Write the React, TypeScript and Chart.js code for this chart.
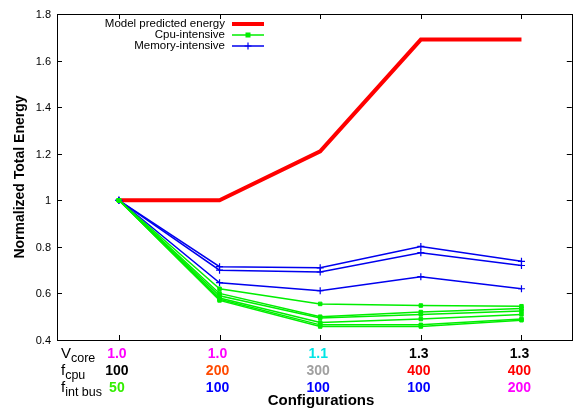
import React, { useEffect, useRef } from "react";
import { Chart, registerables } from "chart.js";

Chart.register(...registerables);

const configX = [1, 2, 3, 4, 5];
const modelEnergy = [1.0, 1.0, 1.21, 1.69, 1.69];
const cpuSeries = [
  [1.0, 0.62, 0.555, 0.548, 0.545],
  [1.0, 0.6, 0.5, 0.52, 0.535],
  [1.0, 0.59, 0.495, 0.51, 0.525],
  [1.0, 0.58, 0.475, 0.49, 0.51],
  [1.0, 0.575, 0.465, 0.465, 0.49],
  [1.0, 0.57, 0.458, 0.458, 0.485],
];
const memSeries = [
  [1.0, 0.715, 0.71, 0.802, 0.738],
  [1.0, 0.7, 0.692, 0.775, 0.72],
  [1.0, 0.646, 0.612, 0.672, 0.62],
];
const yTicks = [0.4, 0.6, 0.8, 1, 1.2, 1.4, 1.6, 1.8];
const vcoreLabels = ["1.0", "1.0", "1.1", "1.3", "1.3"];
const vcoreColors = ["#ff00ff", "#ff00ff", "#00e5e5", "#000000", "#000000"];
const fcpuLabels = ["100", "200", "300", "400", "400"];
const fcpuColors = ["#000000", "#ff4a00", "#a0a0a0", "#ff0000", "#ff0000"];
const fbusLabels = ["50", "100", "100", "100", "200"];
const fbusColors = ["#33ee00", "#0000ff", "#0000ff", "#0000ff", "#ff00ff"];
const legendLabels = ["Model predicted energy", "Cpu-intensive", "Memory-intensive"];

const FONT = "'Liberation Sans', Arial, sans-serif";
const GREEN = "#00ee00";
const BLUE = "#0000ee";
const RED = "#ff0000";

const customDraw = {
  id: "customDraw",
  afterDraw(chart: any) {
    const ctx = chart.ctx;
    const { left, right, top, bottom } = chart.chartArea;
    const xs = chart.scales.x;
    const ys = chart.scales.y;
    ctx.save();
    ctx.strokeStyle = "#000";
    ctx.lineWidth = 1;
    ctx.strokeRect(Math.round(left) + 0.5, Math.round(top) + 0.5, Math.round(right - left), Math.round(bottom - top));
    ctx.font = `11px ${FONT}`;
    ctx.fillStyle = "#000";
    ctx.textAlign = "right";
    ctx.textBaseline = "middle";
    yTicks.forEach((v) => {
      const y = Math.round(ys.getPixelForValue(v)) + 0.5;
      ctx.beginPath();
      ctx.moveTo(left, y);
      ctx.lineTo(left + 5, y);
      ctx.moveTo(right, y);
      ctx.lineTo(right - 5, y);
      ctx.stroke();
      ctx.fillText(String(v), left - 6, y);
    });
    configX.forEach((v) => {
      const x = Math.round(xs.getPixelForValue(v)) + 0.5;
      ctx.beginPath();
      ctx.moveTo(x, bottom);
      ctx.lineTo(x, bottom - 5);
      ctx.moveTo(x, top);
      ctx.lineTo(x, top + 5);
      ctx.stroke();
    });
    const rows = [
      { main: "V", sub: "core", labels: vcoreLabels, colors: vcoreColors, y: 354 },
      { main: "f", sub: "cpu", labels: fcpuLabels, colors: fcpuColors, y: 371 },
      { main: "f", sub: "int bus", labels: fbusLabels, colors: fbusColors, y: 388 },
    ];
    rows.forEach((r) => {
      ctx.textAlign = "left";
      ctx.textBaseline = "middle";
      ctx.fillStyle = "#000";
      ctx.font = `15px ${FONT}`;
      ctx.fillText(r.main, 61, r.y);
      const w = ctx.measureText(r.main).width;
      ctx.font = `12.5px ${FONT}`;
      ctx.fillText(r.sub, 61 + w, r.y + 5);
      ctx.font = `bold 14px ${FONT}`;
      ctx.textAlign = "center";
      r.labels.forEach((t, i) => {
        ctx.fillStyle = r.colors[i];
        ctx.fillText(t, xs.getPixelForValue(configX[i]) - 2, r.y);
      });
    });
    ctx.fillStyle = "#000";
    ctx.font = `bold 15px ${FONT}`;
    ctx.textAlign = "center";
    ctx.fillText("Configurations", 321, 401);
    ctx.save();
    ctx.translate(20, (top + bottom) / 2);
    ctx.rotate(-Math.PI / 2);
    ctx.font = `bold 14px ${FONT}`;
    ctx.fillText("Normalized Total Energy", 0, 0);
    ctx.restore();
    const legendStyles = [
      { color: RED, width: 4, marker: "" },
      { color: GREEN, width: 1.5, marker: "rect" },
      { color: BLUE, width: 1.5, marker: "cross" },
    ];
    ctx.font = `11.5px ${FONT}`;
    ctx.textAlign = "right";
    legendLabels.forEach((t, i) => {
      const y = 24 + i * 11;
      ctx.fillStyle = "#000";
      ctx.fillText(t, 225, y);
      const s = legendStyles[i];
      ctx.strokeStyle = s.color;
      ctx.lineWidth = s.width;
      ctx.beginPath();
      ctx.moveTo(232, y);
      ctx.lineTo(264, y);
      ctx.stroke();
      if (s.marker === "rect") {
        ctx.fillStyle = s.color;
        ctx.fillRect(248 - 2.5, y - 2.5, 5, 5);
      } else if (s.marker === "cross") {
        ctx.lineWidth = 1.2;
        ctx.beginPath();
        ctx.moveTo(248 - 3.5, y);
        ctx.lineTo(248 + 3.5, y);
        ctx.moveTo(248, y - 3.5);
        ctx.lineTo(248, y + 3.5);
        ctx.stroke();
      }
    });
    ctx.restore();
  },
};

export default function App() {
  const ref = useRef<HTMLCanvasElement | null>(null);
  useEffect(() => {
    document.body.style.margin = "0";
    if (!ref.current) return;
    const toPts = (arr: number[]) => arr.map((y, i) => ({ x: configX[i], y }));
    const datasets: any[] = [];
    cpuSeries.forEach((s) =>
      datasets.push({
        data: toPts(s),
        borderColor: GREEN,
        backgroundColor: GREEN,
        borderWidth: 1.5,
        pointStyle: "rect",
        pointRadius: 2.5,
        pointBorderWidth: 1,
      })
    );
    memSeries.forEach((s) =>
      datasets.push({
        data: toPts(s),
        borderColor: BLUE,
        backgroundColor: BLUE,
        borderWidth: 1.5,
        pointStyle: "cross",
        pointRadius: 3.5,
        pointBorderWidth: 1.2,
      })
    );
    datasets.push({
      data: toPts(modelEnergy),
      borderColor: RED,
      backgroundColor: RED,
      borderWidth: 4,
      pointRadius: 0,
    });
    const chart = new Chart(ref.current, {
      type: "line",
      data: { datasets },
      options: {
        responsive: false,
        animation: false,
        layout: { padding: { left: 57, right: 5, top: 14, bottom: 73 } },
        plugins: { legend: { display: false }, tooltip: { enabled: false } },
        scales: {
          x: { type: "linear", min: 0.385, max: 5.5, display: false },
          y: { type: "linear", min: 0.4, max: 1.8, display: false },
        },
      },
      plugins: [customDraw],
    });
    return () => chart.destroy();
  }, []);
  return (
    <div style={{ width: 577, height: 413 }}>
      <canvas ref={ref} width={577} height={413} style={{ display: "block" }} />
    </div>
  );
}
